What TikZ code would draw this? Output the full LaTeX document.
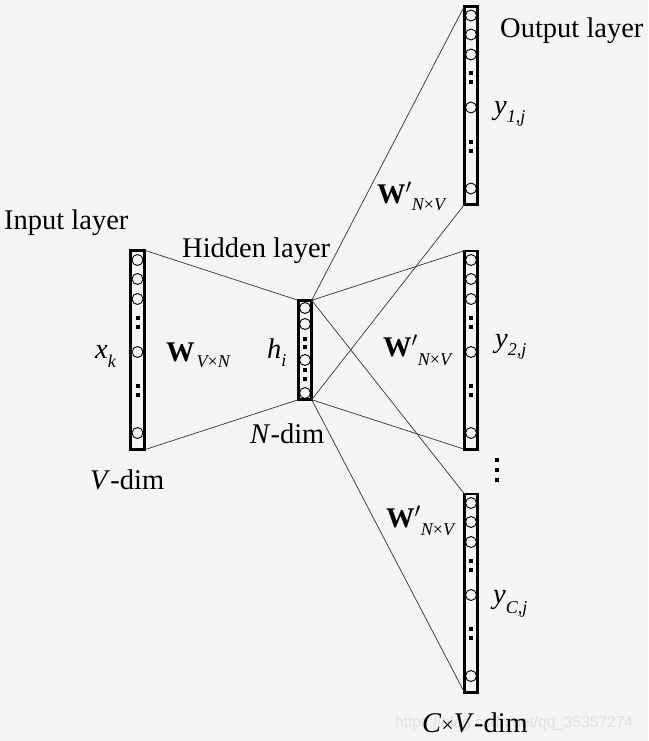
\documentclass[tikz,border=0pt]{standalone}
\usepackage{fontspec}
\setmainfont{Liberation Serif}
\newfontfamily\wmfont{Liberation Sans}
\definecolor{bgcol}{RGB}{244,244,244}
\definecolor{wmcol}{RGB}{224,224,224}
\newcommand{\subsz}{\fontsize{18}{18}\selectfont}
\begin{document}
\begin{tikzpicture}[x=1pt,y=-1pt,
  layerbox/.style={draw=black, line width=2.6pt, inner sep=0pt, outer sep=0pt, rectangle},
  unit/.style={circle, draw=black, line width=0.9pt, minimum size=11pt, inner sep=0pt},
  dotsq/.style={rectangle, fill=black, minimum size=4pt, inner sep=0pt},
  conn/.style={draw=black!80, line width=0.7pt},
  lbl/.style={inner sep=0pt, anchor=base west, font=\fontsize{28.5}{30}\selectfont},
  wm/.style={inner sep=0pt, anchor=base west, text=wmcol, font=\wmfont\fontsize{15.5}{17}\selectfont}]
\fill[bgcol] (0,0) rectangle (648,741);
\useasboundingbox (0,0) rectangle (648,741);

% layer boxes
\node[layerbox, minimum width=14.4pt, minimum height=199.4pt] (in) at (137.5,350) {};
\node[layerbox, minimum width=13.4pt, minimum height=99.4pt] (hid) at (305,350) {};
\foreach \o/\cy in {o1/105.5,o2/350,o3/593}{
  \node[layerbox, minimum width=13.4pt, minimum height=198.4pt] (\o) at (471,\cy) {};
  \foreach \n/\dy in {1/-90,2/-71,3/-51,4/2,5/83}
    \node[unit] (\o-u\n) at (471,\cy+\dy) {};
  \foreach \n/\dy in {1/-32,2/-23,3/36,4/45}
    \node[dotsq] (\o-d\n) at (471,\cy+\dy) {};
}
% input units
\foreach \n/\dy in {1/-90,2/-71,3/-51,4/2,5/83}
  \node[unit] (in-u\n) at (137.5,350+\dy) {};
\foreach \n/\dy in {1/-32,2/-23,3/36,4/45}
  \node[dotsq] (in-d\n) at (137.5,350+\dy) {};
% hidden units
\foreach \n/\dy in {1/-42,2/-26,3/10,4/43}
  \node[unit] (hid-u\n) at (305,350+\dy) {};
\foreach \n/\dy in {1/-11,2/-3,3/20,4/29}
  \node[dotsq] (hid-d\n) at (305,350+\dy) {};

% connectors
\draw[conn] (in.north east) -- (hid.north west);
\draw[conn] (in.south east) -- (hid.south west);
\foreach \o in {o1,o2,o3}{
  \draw[conn] (hid.north east) -- (\o.north west);
  \draw[conn] (hid.south east) -- (\o.south west);
}

% vertical dots between output layers
\foreach \n/\yy in {1/460,2/470,3/480}
  \node[dotsq] (vd\n) at (497,\yy) {};

% watermark
\node[wm] (wmark) at (395,727) {https://blog.csdn.net/qq\_35357274};

% labels
\node[lbl] (linput) at (4,229) {Input layer};
\node[lbl] (lhidden) at (182,257) {Hidden layer};
\node[lbl] (loutput) at (500,38) {Output layer};
\node[lbl] (xk) at (95,358) {\textit{x}\raisebox{-9pt}{\subsz\itshape k}};
\node[lbl] (win) at (166,361) {\textbf{W}\hspace{2pt}\raisebox{-6pt}{\subsz\itshape V{\upshape ×}N}};
\node[lbl] (hi) at (267,358) {\textit{h}\raisebox{-8pt}{\subsz\itshape i}};
\node[lbl] (w1) at (377,203) {\textbf{W}$'$\raisebox{-7pt}{\subsz\itshape N{\upshape ×}V}};
\node[lbl] (w2) at (383,356) {\textbf{W}$'$\raisebox{-9pt}{\subsz\itshape N{\upshape ×}V}};
\node[lbl] (w3) at (386,527) {\textbf{W}$'$\raisebox{-8pt}{\subsz\itshape N{\upshape ×}V}};
\node[lbl] (y1) at (494,115) {\textit{y}\raisebox{-8pt}{\subsz\itshape 1,j}};
\node[lbl] (y2) at (495,347) {\textit{y}\raisebox{-8pt}{\subsz\itshape 2,j}};
\node[lbl] (yc) at (493,603) {\textit{y}\raisebox{-10pt}{\subsz\itshape C,j}};
\node[lbl] (vdim) at (90,489) {\textit{V}-dim};
\node[lbl] (ndim) at (250,443) {\textit{N}-dim};
\node[lbl] (cvdim) at (422,732) {\textit{C}{\fontsize{22}{24}\selectfont ×}\textit{V}-dim};
\end{tikzpicture}
\end{document}
